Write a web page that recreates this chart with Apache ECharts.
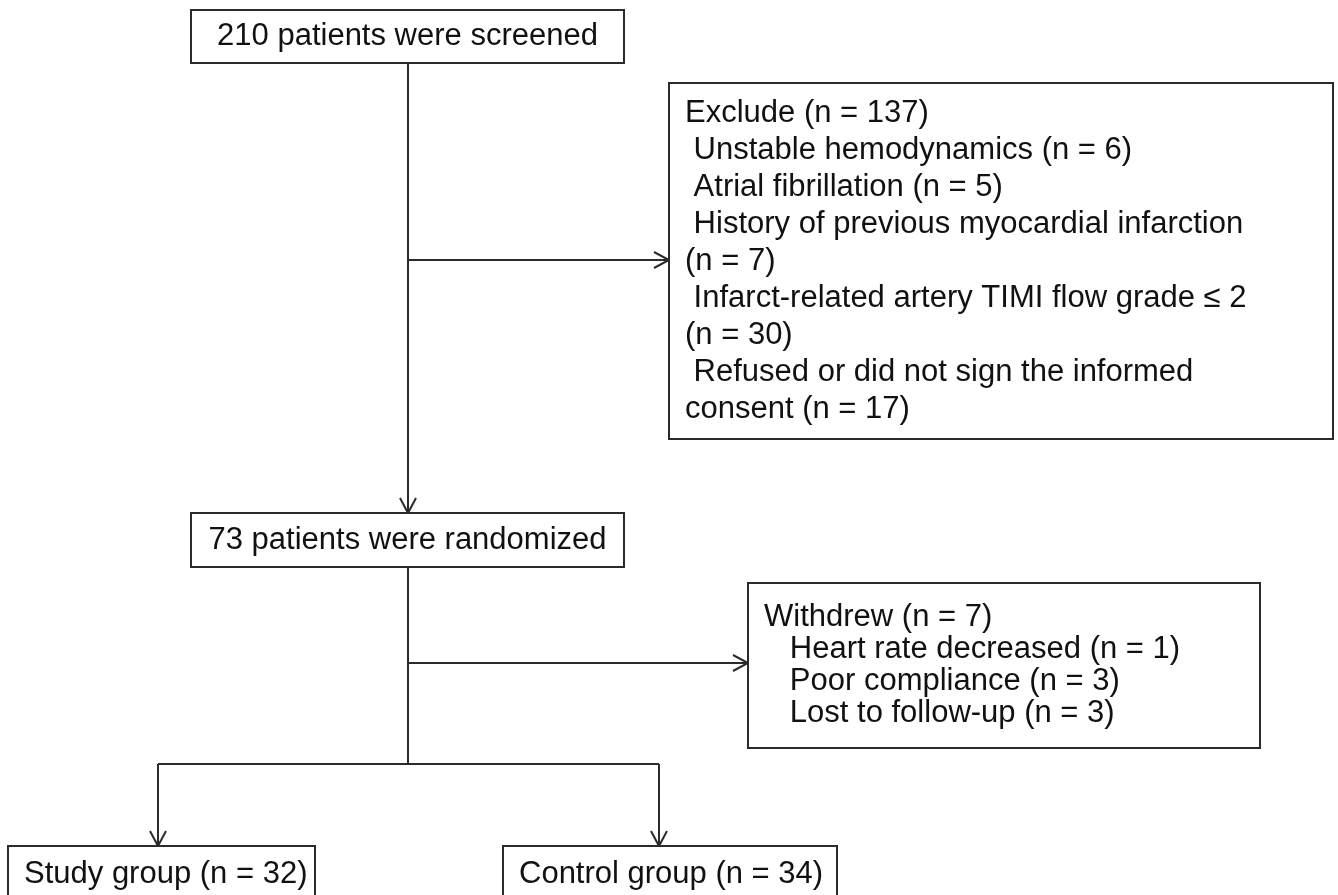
<!DOCTYPE html>
<html>
<head>
<meta charset="utf-8">
<style>
html,body{margin:0;padding:0;background:#fff;}
#chart{width:1338px;height:895px;}
</style>
<script src="https://cdn.jsdelivr.net/npm/echarts@6/dist/echarts.min.js"></script>
</head>
<body>
<div id="chart"></div>
<script>
// ---- flowchart content ----
const boxTexts = [
  ['210 patients were screened'],
  ['Exclude (n = 137)',
   ' Unstable hemodynamics (n = 6)',
   ' Atrial fibrillation (n = 5)',
   ' History of previous myocardial infarction',
   '(n = 7)',
   ' Infarct-related artery TIMI flow grade \u2264 2',
   '(n = 30)',
   ' Refused or did not sign the informed',
   'consent (n = 17)'],
  ['73 patients were randomized'],
  ['Withdrew (n = 7)',
   '   Heart rate decreased (n = 1)',
   '   Poor compliance (n = 3)',
   '   Lost to follow-up (n = 3)'],
  ['Study group (n = 32)'],
  ['Control group (n = 34)']
];
// box layout in chart units: [left, top, right, bottom]
const boxRects = [
  [191, 10, 624, 63],
  [669, 83, 1333, 439],
  [191, 513, 624, 567],
  [748, 583, 1260, 748],
  [8, 846, 315, 902],
  [503, 846, 837, 902]
];
const boxAlign = ['center', 'left', 'center', 'left', 'left', 'left'];
const boxLineGap = [0, 37, 0, 32, 0, 0];

// connectors: point lists in chart units, and whether they end with an arrow
const connectorPaths = [
  [[408, 63], [408, 513]],
  [[408, 260], [669, 260]],
  [[408, 567], [408, 764]],
  [[408, 663], [748, 663]],
  [[158, 764], [659, 764]],
  [[158, 764], [158, 846]],
  [[659, 764], [659, 846]]
];
const connectorArrow = [true, true, false, true, false, true, true];

// ---- rendering ----
const FONT = '31px "Liberation Sans", Arial, sans-serif';
const INK = '#2b2b2b';
const PAD = 16;

const chart = echarts.init(document.getElementById('chart'), null, {renderer: 'canvas'});

function renderBox(params, api) {
  const i = api.value(0);
  const r = boxRects[i];
  const p0 = api.coord([r[0], r[1]]);
  const p1 = api.coord([r[2], r[3]]);
  const children = [{
    type: 'rect',
    shape: {x: p0[0], y: p0[1], width: p1[0] - p0[0], height: p1[1] - p0[1]},
    style: {fill: '#fff', stroke: INK, lineWidth: 2}
  }];
  const lines = boxTexts[i];
  const gap = boxLineGap[i];
  const cy = (p0[1] + p1[1]) / 2;
  lines.forEach(function (t, j) {
    const y = cy + (j - (lines.length - 1) / 2) * gap;
    const center = boxAlign[i] === 'center';
    children.push({
      type: 'text',
      x: center ? (p0[0] + p1[0]) / 2 : p0[0] + PAD,
      y: y,
      style: {
        text: t,
        font: FONT,
        fill: '#111',
        align: center ? 'center' : 'left',
        verticalAlign: 'middle'
      }
    });
  });
  return {type: 'group', children: children};
}

function renderConnector(params, api) {
  const i = api.value(0);
  const pts = connectorPaths[i].map(function (p) { return api.coord(p); });
  const children = [{
    type: 'polyline',
    shape: {points: pts},
    style: {stroke: INK, lineWidth: 2, fill: null}
  }];
  if (connectorArrow[i]) {
    const a = pts[pts.length - 2], b = pts[pts.length - 1];
    const dx = b[0] - a[0], dy = b[1] - a[1];
    const len = Math.sqrt(dx * dx + dy * dy);
    const ux = dx / len, uy = dy / len;
    const L = 15, W = 8;
    children.push({
      type: 'polyline',
      shape: {points: [
        [b[0] - ux * L - uy * W, b[1] - uy * L + ux * W],
        [b[0], b[1]],
        [b[0] - ux * L + uy * W, b[1] - uy * L - ux * W]
      ]},
      style: {stroke: INK, lineWidth: 2, fill: null}
    });
  }
  return {type: 'group', children: children};
}

chart.setOption({
  animation: false,
  backgroundColor: '#fff',
  grid: {left: 0, right: 0, top: 0, bottom: 0},
  xAxis: {type: 'value', min: 0, max: 1338, show: false},
  yAxis: {type: 'value', min: 0, max: 895, inverse: true, show: false},
  series: [
    {
      type: 'custom',
      renderItem: renderConnector,
      clip: false,
      data: connectorPaths.map(function (p, i) { return [i, 0]; }),
      z: 1
    },
    {
      type: 'custom',
      renderItem: renderBox,
      clip: false,
      data: boxRects.map(function (b, i) { return [i, 0]; }),
      z: 2
    }
  ]
});
</script>
</body>
</html>
